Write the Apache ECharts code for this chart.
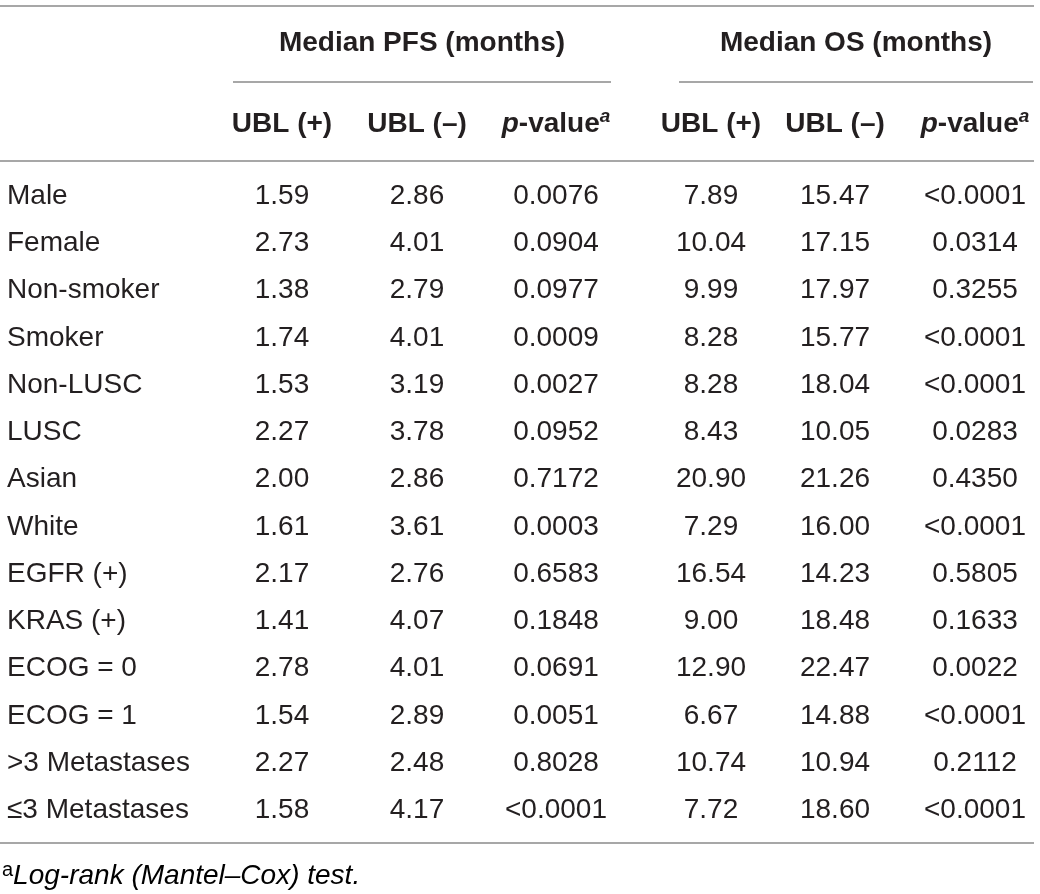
<!DOCTYPE html>
<html>
<head>
    <meta charset="utf-8">
    <title>Median PFS / OS by subgroup</title>
    <script src="https://cdn.jsdelivr.net/npm/echarts@6/dist/echarts.min.js"></script>
    <style>
        html, body { margin: 0; padding: 0; background: #fff; }
        #table { width: 1040px; height: 894px; }
    </style>
</head>
<body>
    <div id="table"></div>
    <script>
        // 表格数据
        var groups = ['Male', 'Female', 'Non-smoker', 'Smoker', 'Non-LUSC', 'LUSC', 'Asian', 'White',
            'EGFR (+)', 'KRAS (+)', 'ECOG = 0', 'ECOG = 1', '>3 Metastases', '\u22643 Metastases'];
        var pfsPos = ['1.59', '2.73', '1.38', '1.74', '1.53', '2.27', '2.00', '1.61', '2.17', '1.41', '2.78', '1.54', '2.27', '1.58'];
        var pfsNeg = ['2.86', '4.01', '2.79', '4.01', '3.19', '3.78', '2.86', '3.61', '2.76', '4.07', '4.01', '2.89', '2.48', '4.17'];
        var pfsP = ['0.0076', '0.0904', '0.0977', '0.0009', '0.0027', '0.0952', '0.7172', '0.0003', '0.6583', '0.1848', '0.0691', '0.0051', '0.8028', '<0.0001'];
        var osPos = ['7.89', '10.04', '9.99', '8.28', '8.28', '8.43', '20.90', '7.29', '16.54', '9.00', '12.90', '6.67', '10.74', '7.72'];
        var osNeg = ['15.47', '17.15', '17.97', '15.77', '18.04', '10.05', '21.26', '16.00', '14.23', '18.48', '22.47', '14.88', '10.94', '18.60'];
        var osP = ['<0.0001', '0.0314', '0.3255', '<0.0001', '<0.0001', '0.0283', '0.4350', '<0.0001', '0.5805', '0.1633', '0.0022', '<0.0001', '0.2112', '<0.0001'];
        var spanTitles = ['Median PFS (months)', 'Median OS (months)'];
        var colTitles = ['UBL (+)', 'UBL (\u2013)', 'p-value', 'UBL (+)', 'UBL (\u2013)', 'p-value'];
        var footnote = 'Log-rank (Mantel\u2013Cox) test.';

        // 版式
        var FONT = "'Liberation Sans', Arial, Helvetica, sans-serif";
        var FS = 28;
        var INK = '#231f20';
        var RULE = '#8a8a8a';
        var colX = [282, 417, 556, 711, 835, 975];
        var spanX = [[233, 611], [679, 1033]];
        var columns = [pfsPos, pfsNeg, pfsP, osPos, osNeg, osP];

        var series = columns.map(function (col, j) {
            return {
                type: 'scatter',
                symbolSize: 0,
                silent: true,
                itemStyle: { opacity: 1 },
                data: col.map(function (v, i) { return [colX[j], groups[i], v]; }),
                label: {
                    show: true,
                    position: 'inside',
                    formatter: function (p) { return p.value[2]; },
                    color: INK,
                    opacity: 1,
                    fontFamily: FONT,
                    fontSize: FS
                }
            };
        });

        function rule(x1, x2, y) {
            return {
                type: 'line',
                silent: true,
                shape: { x1: x1, y1: y, x2: x2, y2: y },
                style: { stroke: RULE, lineWidth: 1.6 }
            };
        }

        function headText(x, y, text, rich) {
            return {
                type: 'text',
                silent: true,
                style: {
                    x: x, y: y, text: text,
                    fill: INK,
                    font: 'bold ' + FS + 'px ' + FONT,
                    textAlign: 'center', textVerticalAlign: 'middle',
                    align: 'center', verticalAlign: 'middle',
                    rich: rich
                }
            };
        }

        var supRich = {
            i: { fontFamily: FONT, fontSize: FS, fontWeight: 'bold', fontStyle: 'italic', color: INK, lineHeight: 34 },
            b: { fontFamily: FONT, fontSize: FS, fontWeight: 'bold', color: INK, lineHeight: 34 },
            s: { fontFamily: FONT, fontSize: 19, fontWeight: 'bold', fontStyle: 'italic', color: INK, lineHeight: 19, verticalAlign: 'top' }
        };

        var graphics = [
            rule(0, 1034, 6),
            rule(spanX[0][0], spanX[0][1], 82),
            rule(spanX[1][0], spanX[1][1], 82),
            rule(0, 1034, 161),
            rule(0, 1034, 843)
        ];
        spanTitles.forEach(function (t, k) {
            graphics.push(headText((spanX[k][0] + spanX[k][1]) / 2, 43, t));
        });
        colTitles.forEach(function (t, j) {
            if (t.indexOf('p-') === 0) {
                graphics.push(headText(colX[j], 124, '{i|p}{b|-value}{s|a}', supRich));
            } else {
                graphics.push(headText(colX[j], 124, t));
            }
        });
        graphics.push({
            type: 'text',
            silent: true,
            style: {
                x: 2, y: 876,
                text: '{n|a}{t|' + footnote + '}',
                textAlign: 'left', textVerticalAlign: 'middle',
                align: 'left', verticalAlign: 'middle',
                rich: {
                    n: { fontFamily: FONT, fontSize: 20, color: INK, lineHeight: 20, verticalAlign: 'top' },
                    t: { fontFamily: FONT, fontSize: FS, fontStyle: 'italic', color: INK, lineHeight: 32 }
                }
            }
        });

        var myChart = echarts.init(document.getElementById('table'));
        var option = {
            animation: false,
            grid: { left: 0, right: 0, top: 172.5, bottom: 60 },
            xAxis: {
                type: 'value', min: 0, max: 1040, show: false
            },
            yAxis: {
                type: 'category',
                inverse: true,
                data: groups,
                axisLine: { show: false },
                axisTick: { show: false },
                splitLine: { show: false },
                axisLabel: {
                    inside: true,
                    align: 'left',
                    margin: 7,
                    color: INK,
                    fontFamily: FONT,
                    fontSize: FS
                }
            },
            series: series,
            graphic: graphics
        };
        myChart.setOption(option);
    </script>
</body>
</html>
